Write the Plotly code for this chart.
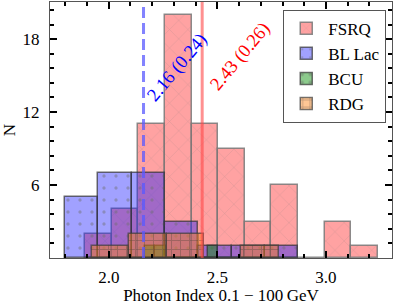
import plotly.graph_objects as go

# ---- data ----
fsrq_edges = [1.891, 2.014, 2.136, 2.259, 2.381, 2.504, 2.627, 2.749, 2.872, 2.994, 3.117, 3.240]
fsrq_counts = [2, 4, 11, 20, 11, 9, 3, 6, 0, 3, 1]

bllac_edges = [1.799, 1.952, 2.106, 2.259, 2.413, 2.566, 2.720, 2.873]
bllac_counts = [5, 7, 7, 3, 1, 1, 1]

bcu_edges = [2.167, 2.215, 2.263, 2.311, 2.360, 2.408, 2.456, 2.504]
bcu_counts = [1, 1, 0, 0, 0, 0, 1]

rdg_edges = [1.922, 2.094, 2.266, 2.439, 2.611, 2.783]
rdg_counts = [1, 2, 2, 0, 1]

bllac_mean, bllac_std = 2.16, 0.24
fsrq_mean, fsrq_std = 2.43, 0.26

x_ticks = [2.0, 2.5, 3.0]
x_tick_labels = ["2.0", "2.5", "3.0"]
y_ticks = [6, 12, 18]
y_tick_labels = ["6", "12", "18"]

FONT = "Liberation Serif"


def centers(edges):
    return [(a + b) / 2 for a, b in zip(edges[:-1], edges[1:])]


def widths(edges):
    return [b - a for a, b in zip(edges[:-1], edges[1:])]


fig = go.Figure()

series = [
    ("FSRQ", fsrq_edges, fsrq_counts, "rgba(255,70,70,0.5)", "rgba(120,120,120,0.85)",
     dict(shape="x", fgcolor="rgba(120,120,120,0.7)", size=13, solidity=0.06)),
    ("BL Lac", bllac_edges, bllac_counts, "rgba(20,20,255,0.4)", "rgba(50,50,50,0.7)",
     dict(shape=".", fgcolor="rgba(110,110,110,0.9)", size=12, solidity=0.06)),
    ("BCU", bcu_edges, bcu_counts, "rgba(0,140,0,0.45)", "rgba(50,50,50,0.7)",
     dict(shape=".", fgcolor="rgba(100,100,100,0.8)", size=10, solidity=0.15)),
    ("RDG", rdg_edges, rdg_counts, "rgba(255,130,20,0.45)", "rgba(60,60,60,0.7)",
     dict(shape="+", fgcolor="rgba(90,70,60,0.8)", size=9, solidity=0.2)),
]

for name, edges, counts, fill, edge, pattern in series:
    fig.add_trace(go.Bar(
        x=centers(edges), y=counts, width=widths(edges), name=name,
        marker=dict(color=fill, line=dict(color=edge, width=1.5), pattern=pattern),
    ))

fig.add_vline(x=bllac_mean, line=dict(color="rgba(90,90,255,0.75)", width=3, dash="11px,5px"))
fig.add_vline(x=fsrq_mean, line=dict(color="rgba(255,70,70,0.6)", width=3))

fig.add_annotation(x=2.315, y=15.7, text=f"{bllac_mean:.2f} ({bllac_std:.2f})", showarrow=False,
                   textangle=-50, font=dict(family=FONT, size=18.5, color="blue"))
fig.add_annotation(x=2.605, y=16.6, text=f"{fsrq_mean:.2f} ({fsrq_std:.2f})", showarrow=False,
                   textangle=-50, font=dict(family=FONT, size=18.5, color="red"))

axis_common = dict(
    showgrid=False, zeroline=False, showline=True, linecolor="#555", linewidth=1.2,
    mirror="allticks", ticks="inside", ticklen=7, tickwidth=2, tickcolor="black",
    tickfont=dict(family=FONT, size=17, color="black"), automargin=False,
)

fig.update_layout(
    width=396, height=307,
    margin=dict(l=50, r=4, t=2, b=49),
    paper_bgcolor="white", plot_bgcolor="white",
    barmode="overlay", bargap=0,
    font=dict(family=FONT, size=17, color="black"),
    xaxis=dict(range=[1.7295, 3.304], tickvals=x_ticks, ticktext=x_tick_labels,
               minor=dict(dtick=0.1, tick0=2.0, ticks="inside", ticklen=4, tickwidth=1.5, tickcolor="black"),
               title=dict(text="Photon Index 0.1 \u2212 100\u2009GeV", standoff=0,
                          font=dict(family=FONT, size=17)),
               ticklabelstandoff=3,
               **axis_common),
    yaxis=dict(range=[0, 21.05], tickvals=y_ticks, ticktext=y_tick_labels,
               minor=dict(dtick=1.2, tick0=0, ticks="inside", ticklen=4, tickwidth=1.5, tickcolor="black"),
               title=dict(text="N", standoff=4, font=dict(family=FONT, size=17)),
               ticklabelstandoff=6,
               **axis_common),
    legend=dict(x=0.682, y=0.97, xanchor="left", yanchor="top",
                bgcolor="rgba(255,255,255,0.8)", bordercolor="#555", borderwidth=1,
                font=dict(family=FONT, size=17), itemwidth=34, tracegroupgap=0),
    showlegend=True,
)

fig.write_html("out.html", config={"displayModeBar": False},
               post_script="document.body.style.margin='0px';document.body.style.overflow='hidden';")
